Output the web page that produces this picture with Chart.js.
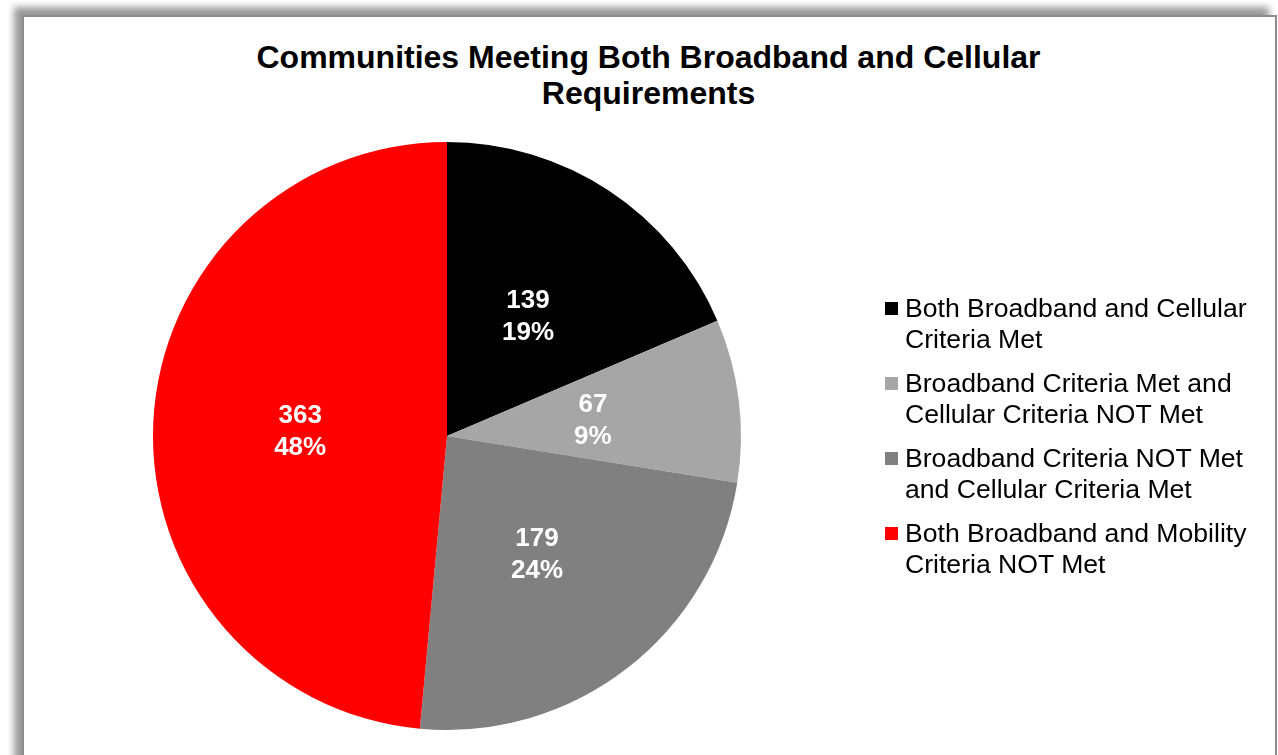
<!DOCTYPE html>
<html>
<head>
<meta charset="utf-8">
<title>Communities Meeting Both Broadband and Cellular Requirements</title>
<script src="https://cdn.jsdelivr.net/npm/chart.js@4/dist/chart.umd.min.js"></script>
<style>
    html, body { margin: 0; padding: 0; background: #fff; overflow: hidden; }
    body { width: 1278px; height: 755px; position: relative; font-family: "Liberation Sans", Arial, sans-serif; }
    #panel {
        position: absolute; left: 22px; top: 15px; width: 1251px; height: 800px;
        background: #fff; border: 2px solid #8c8c8c;
        box-shadow: -8px -8px 7px rgba(0, 0, 0, 0.4);
    }
    #chart-title {
        position: absolute; left: 0; width: 1297px; top: 39px;
        text-align: center; font-weight: bold; font-size: 32px; line-height: 36px; color: #000;
    }
    #chart-wrap { position: absolute; left: 0; top: 0; width: 1278px; height: 755px; }
    #legend { position: absolute; left: 885px; top: 293px; font-size: 26.6px; line-height: 31px; color: #000; }
    .legend-item { position: relative; padding-left: 20px; margin-bottom: 13px; white-space: nowrap; }
    .legend-box { position: absolute; left: 0; top: 9px; width: 13px; height: 13px; }
</style>
</head>
<body>
<div id="panel"></div>
<div id="chart-title">Communities Meeting Both Broadband and Cellular<br>Requirements</div>
<div id="chart-wrap"><canvas id="pieChart" width="1278" height="755"></canvas></div>
<div id="legend"></div>

<script>
// Slice data
const categories = [
    ['Both Broadband and Cellular', 'Criteria Met'],
    ['Broadband Criteria Met and', 'Cellular Criteria NOT Met'],
    ['Broadband Criteria NOT Met', 'and Cellular Criteria Met'],
    ['Both Broadband and Mobility', 'Criteria NOT Met']
];
const counts = [139, 67, 179, 363];
const percentLabels = ['19%', '9%', '24%', '48%'];
const sliceColors = ['#000000', '#a6a6a6', '#808080', '#ff0000'];

// Value + percent in the middle of each slice
const sliceLabels = {
    id: 'sliceLabels',
    afterDatasetsDraw(chart) {
        const ctx = chart.ctx;
        const meta = chart.getDatasetMeta(0);
        ctx.save();
        ctx.fillStyle = '#ffffff';
        ctx.font = 'bold 26px "Liberation Sans", Arial, sans-serif';
        ctx.textAlign = 'center';
        ctx.textBaseline = 'middle';
        meta.data.forEach((arc, i) => {
            const pos = arc.tooltipPosition();
            ctx.fillText(String(counts[i]), pos.x, pos.y - 13);
            ctx.fillText(percentLabels[i], pos.x, pos.y + 19);
        });
        ctx.restore();
    }
};

function buildLegend() {
    const legend = document.getElementById('legend');
    categories.forEach((lines, i) => {
        const item = document.createElement('div');
        item.className = 'legend-item';
        const box = document.createElement('span');
        box.className = 'legend-box';
        box.style.background = sliceColors[i];
        item.appendChild(box);
        item.appendChild(document.createTextNode(lines[0]));
        item.appendChild(document.createElement('br'));
        item.appendChild(document.createTextNode(lines[1]));
        legend.appendChild(item);
    });
}

function renderPie() {
    const ctx = document.getElementById('pieChart');
    new Chart(ctx, {
        type: 'pie',
        data: {
            labels: categories.map(l => l.join(' ')),
            datasets: [{
                data: counts,
                backgroundColor: sliceColors,
                borderWidth: 0,
                hoverOffset: 0
            }]
        },
        options: {
            responsive: false,
            animation: false,
            layout: { padding: { left: 153, top: 142, right: 537, bottom: 25 } },
            plugins: {
                legend: { display: false },
                tooltip: { enabled: false },
                title: { display: false }
            }
        },
        plugins: [sliceLabels]
    });
}

buildLegend();
renderPie();
</script>
</body>
</html>
